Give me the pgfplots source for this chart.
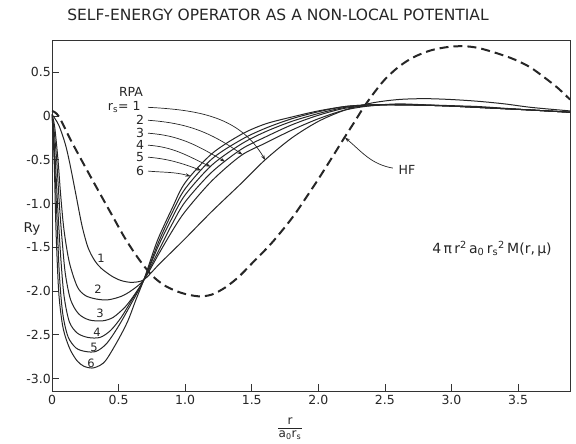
\documentclass[border=0pt]{standalone}
\usepackage{pgfplots}
\pgfplotsset{compat=1.18}
\usepackage{pgfplotstable}
\usetikzlibrary{arrows.meta}
\usepackage{fontspec}
\setmainfont{DejaVu Sans}

\pgfplotstableread{
x y
0 0.02
0.05 -0.10
0.1 -0.32
0.135 -0.55
0.18 -0.90
0.225 -1.25
0.27 -1.50
0.32 -1.65
0.37 -1.74
0.45 -1.83
0.52 -1.88
0.6 -1.90
0.69 -1.87
0.8 -1.70
0.9 -1.55
1.0 -1.40
1.2 -1.09
1.42 -0.77
1.6 -0.50
1.8 -0.25
2.0 -0.06
2.2 0.07
2.4 0.15
2.6 0.19
2.8 0.20
3.0 0.19
3.2 0.17
3.4 0.14
3.6 0.10
3.89 0.06
}\cone

\pgfplotstableread{
x y
0 0.02
0.02 -0.12
0.045 -0.5
0.065 -0.9
0.09 -1.3
0.13 -1.67
0.19 -1.95
0.25 -2.05
0.33 -2.09
0.42 -2.10
0.52 -2.06
0.6 -1.99
0.69 -1.87
0.8 -1.58
0.9 -1.32
1.0 -1.09
1.2 -0.74
1.42 -0.45
1.6 -0.31
1.8 -0.16
2.0 -0.03
2.2 0.07
2.4 0.12
2.6 0.14
2.8 0.13
3.0 0.12
3.2 0.11
3.4 0.09
3.6 0.07
3.89 0.045
}\ctwo

\pgfplotstableread{
x y
0 0.02
0.015 -0.15
0.035 -0.5
0.055 -1.0
0.075 -1.4
0.1 -1.8
0.14 -2.1
0.2 -2.26
0.28 -2.33
0.38 -2.34
0.46 -2.30
0.55 -2.18
0.62 -2.04
0.69 -1.87
0.8 -1.54
0.9 -1.24
1.0 -0.98
1.2 -0.64
1.42 -0.38
1.6 -0.24
1.8 -0.10
2.0 0.01
2.2 0.09
2.4 0.12
2.6 0.13
2.8 0.125
3.0 0.115
3.2 0.10
3.4 0.085
3.6 0.07
3.89 0.045
}\cthree

\pgfplotstableread{
x y
0 0.02
0.012 -0.2
0.028 -0.6
0.045 -1.1
0.065 -1.6
0.09 -2.05
0.13 -2.35
0.19 -2.48
0.27 -2.53
0.36 -2.53
0.44 -2.45
0.52 -2.30
0.6 -2.10
0.69 -1.87
0.8 -1.48
0.9 -1.17
1.0 -0.90
1.2 -0.56
1.42 -0.32
1.6 -0.18
1.8 -0.06
2.0 0.03
2.2 0.10
2.4 0.13
2.6 0.13
2.8 0.125
3.0 0.115
3.2 0.10
3.4 0.085
3.6 0.07
3.89 0.045
}\cfour

\pgfplotstableread{
x y
0 0.02
0.01 -0.2
0.022 -0.6
0.038 -1.2
0.055 -1.8
0.08 -2.25
0.12 -2.52
0.18 -2.65
0.25 -2.69
0.33 -2.69
0.41 -2.60
0.5 -2.40
0.6 -2.13
0.69 -1.87
0.8 -1.44
0.9 -1.11
1.0 -0.83
1.2 -0.49
1.42 -0.27
1.6 -0.14
1.8 -0.03
2.0 0.05
2.2 0.11
2.4 0.13
2.6 0.13
2.8 0.125
3.0 0.115
3.2 0.10
3.4 0.085
3.6 0.07
3.89 0.045
}\cfive

\pgfplotstableread{
x y
0 0.02
0.008 -0.2
0.018 -0.6
0.03 -1.3
0.05 -2.0
0.075 -2.35
0.1 -2.52
0.14 -2.68
0.19 -2.80
0.24 -2.86
0.3 -2.88
0.36 -2.85
0.41 -2.78
0.5 -2.55
0.57 -2.34
0.63 -2.10
0.69 -1.87
0.75 -1.60
0.8 -1.39
0.9 -1.06
1.0 -0.76
1.2 -0.43
1.42 -0.21
1.6 -0.09
1.8 -0.01
2.0 0.06
2.2 0.11
2.4 0.13
2.6 0.13
2.8 0.125
3.0 0.115
3.2 0.10
3.4 0.085
3.6 0.07
3.89 0.045
}\csix

\pgfplotstableread{
x y
0 0.06
0.05 0.0
0.15 -0.30
0.3 -0.72
0.45 -1.13
0.55 -1.40
0.65 -1.63
0.75 -1.82
0.85 -1.94
0.97 -2.02
1.1 -2.06
1.2 -2.04
1.3 -1.96
1.4 -1.84
1.51 -1.67
1.65 -1.45
1.8 -1.17
1.9 -0.95
2.0 -0.72
2.1 -0.48
2.19 -0.26
2.27 -0.07
2.34 0.10
2.42 0.27
2.5 0.42
2.6 0.56
2.71 0.67
2.84 0.75
2.97 0.79
3.09 0.80
3.2 0.78
3.34 0.72
3.47 0.65
3.59 0.56
3.7 0.44
3.8 0.32
3.89 0.19
}\hf

\begin{document}
\begin{tikzpicture}
\path[use as bounding box] (-52pt,-52.5pt) rectangle (524pt,391.5pt);
\begin{axis}[
  at={(0pt,0pt)}, anchor=south west,
  scale only axis, width=518pt, height=351pt,
  xmin=0, xmax=3.89, ymin=-3.148, ymax=0.865,
  axis line style={black!80, line width=0.8pt},
  tick align=inside, major tick length=7pt,
  xtick pos=bottom, ytick pos=left,
  tick style={black!80, line width=0.8pt},
  xtick={0,0.5,1,1.5,2,2.5,3,3.5},
  xticklabels={0,0.5,1.0,1.5,2.0,2.5,3.0,3.5},
  ytick={-3,-2.5,-2,-1.5,-1,-0.5,0,0.5},
  yticklabels={-3.0,-2.5,-2.0,-1.5,-1.0,-0.5,0,0.5},
  tick label style={font=\fontsize{12.5}{14}\selectfont, text=black!85},
  yticklabel style={inner sep=1pt},
  clip=true,
]
\addplot[black!85, line width=1pt, smooth] table {\cone};
\addplot[black!85, line width=1pt, smooth] table {\ctwo};
\addplot[black!85, line width=1pt, smooth] table {\cthree};
\addplot[black!85, line width=1pt, smooth] table {\cfour};
\addplot[black!85, line width=1pt, smooth] table {\cfive};
\addplot[black!85, line width=1pt, smooth] table {\csix};
\addplot[black!85, line width=2pt, smooth, dash pattern=on 9pt off 5pt] table {\hf};

% annotation arrows
\draw[black!85, line width=0.7pt, -{Stealth[length=5pt,width=3.5pt]}] (axis cs:0.721,0.101) to[out=-3,in=120] (axis cs:1.6,-0.50);
\draw[black!85, line width=0.7pt, -{Stealth[length=5pt,width=3.5pt]}] (axis cs:0.721,-0.047) to[out=-4,in=145] (axis cs:1.43,-0.44);
\draw[black!85, line width=0.7pt, -{Stealth[length=5pt,width=3.5pt]}] (axis cs:0.721,-0.195) to[out=-4,in=150] (axis cs:1.30,-0.52);
\draw[black!85, line width=0.7pt, -{Stealth[length=5pt,width=3.5pt]}] (axis cs:0.721,-0.332) to[out=-4,in=155] (axis cs:1.19,-0.577);
\draw[black!85, line width=0.7pt, -{Stealth[length=5pt,width=3.5pt]}] (axis cs:0.721,-0.469) to[out=-5,in=160] (axis cs:1.12,-0.62);
\draw[black!85, line width=0.7pt, -{Stealth[length=5pt,width=3.5pt]}] (axis cs:0.721,-0.628) to[out=-5,in=165] (axis cs:1.04,-0.686);
\draw[black!85, line width=0.7pt, -{Stealth[length=5pt,width=3.5pt]}] (axis cs:2.56,-0.594) to[out=170,in=-40] (axis cs:2.2,-0.245);
\end{axis}

% texts
\node[font=\fontsize{15.5}{18}\selectfont, text=black!85] at (226pt,376.5pt) {SELF-ENERGY OPERATOR AS A NON-LOCAL POTENTIAL};
\node[font=\fontsize{13.5}{16}\selectfont, text=black!85] at (-20pt,162.5pt) {Ry};
% x label as a fraction r / (a0 rs)
\node[font=\fontsize{12}{14}\selectfont, text=black!85, inner sep=0pt] at (238pt,-30pt) {r};
\draw[black!85, line width=0.7pt] (226pt,-37pt) -- (250pt,-37pt);
\node[font=\fontsize{12}{14}\selectfont, text=black!85, inner sep=0pt] at (238pt,-44pt) {a\textsubscript{0}r\textsubscript{s}};
\node[font=\fontsize{12.5}{15}\selectfont, text=black!85] at (79pt,299.5pt) {RPA};
\node[font=\fontsize{12.5}{15}\selectfont, text=black!85, anchor=east] at (92pt,284.5pt) {r\textsubscript{s}= 1};
\node[font=\fontsize{12.5}{15}\selectfont, text=black!85] at (88pt,271.5pt) {2};
\node[font=\fontsize{12.5}{15}\selectfont, text=black!85] at (88pt,258.5pt) {3};
\node[font=\fontsize{12.5}{15}\selectfont, text=black!85] at (88pt,246.5pt) {4};
\node[font=\fontsize{12.5}{15}\selectfont, text=black!85] at (88pt,234.5pt) {5};
\node[font=\fontsize{12.5}{15}\selectfont, text=black!85] at (88pt,220.5pt) {6};
\node[font=\fontsize{12.5}{15}\selectfont, text=black!85] at (355pt,221.5pt) {HF};
\node[font=\fontsize{14}{16}\selectfont, text=black!85] at (440pt,143pt) {4\,π\,r\textsuperscript{2}\,a\textsubscript{0}\,r\textsubscript{s}\textsuperscript{2}\,M(r,\,μ)};
\node[font=\fontsize{11.5}{14}\selectfont, text=black!85] at (49pt,133.5pt) {1};
\node[font=\fontsize{11.5}{14}\selectfont, text=black!85] at (46pt,102.5pt) {2};
\node[font=\fontsize{11.5}{14}\selectfont, text=black!85] at (48pt,78.5pt) {3};
\node[font=\fontsize{11.5}{14}\selectfont, text=black!85] at (45pt,59.5pt) {4};
\node[font=\fontsize{11.5}{14}\selectfont, text=black!85] at (42pt,44.5pt) {5};
\node[font=\fontsize{11.5}{14}\selectfont, text=black!85] at (39pt,28.5pt) {6};
\end{tikzpicture}
\end{document}
